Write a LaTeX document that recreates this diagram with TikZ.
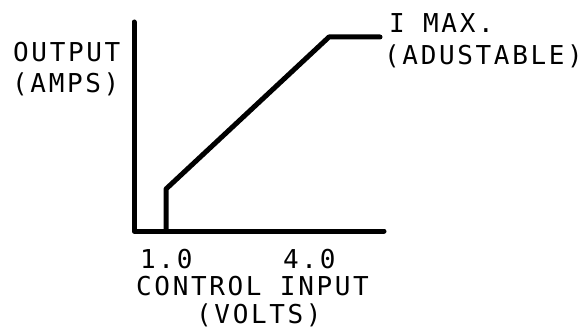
\documentclass[tikz,border=0pt]{standalone}
\usepackage{fontspec}
\newfontfamily\cadfont[LetterSpace=10.2]{DejaVu Sans Mono}
\begin{document}
\begin{tikzpicture}[x=1pt,y=-1pt,
  lbl/.style={anchor=base west,inner sep=0pt,font=\cadfont\fontsize{26}{30}\selectfont},
  curve/.style={line width=5pt,line cap=round,line join=round}]
\useasboundingbox (0,0) rectangle (582,329);
\coordinate (top) at (134,22);
\coordinate (origin) at (134,231);
\coordinate (xend) at (384,231);
\coordinate (foot) at (166,231);
\coordinate (knee) at (166,189);
\coordinate (sat) at (329,37);
\coordinate (satend) at (380,37);
\draw[curve] (top) -- (origin) -- (xend);
\draw[curve] (foot) -- (knee) -- (sat) -- (satend);
\node[lbl] (out) at (13,62) {OUTPUT};
\node[lbl] (amps) at (12,93) {(AMPS)};
\node[lbl] (imax) at (389,33) {I MAX.};
\node[lbl] (adj) at (384,65) {(ADUSTABLE)};
\node[lbl] (one) at (140,268) {1.0};
\node[lbl] (four) at (283,268) {4.0};
\node[lbl] (ctl) at (136,295) {CONTROL INPUT};
\node[lbl] (volts) at (196,323) {(VOLTS)};
\end{tikzpicture}
\end{document}
